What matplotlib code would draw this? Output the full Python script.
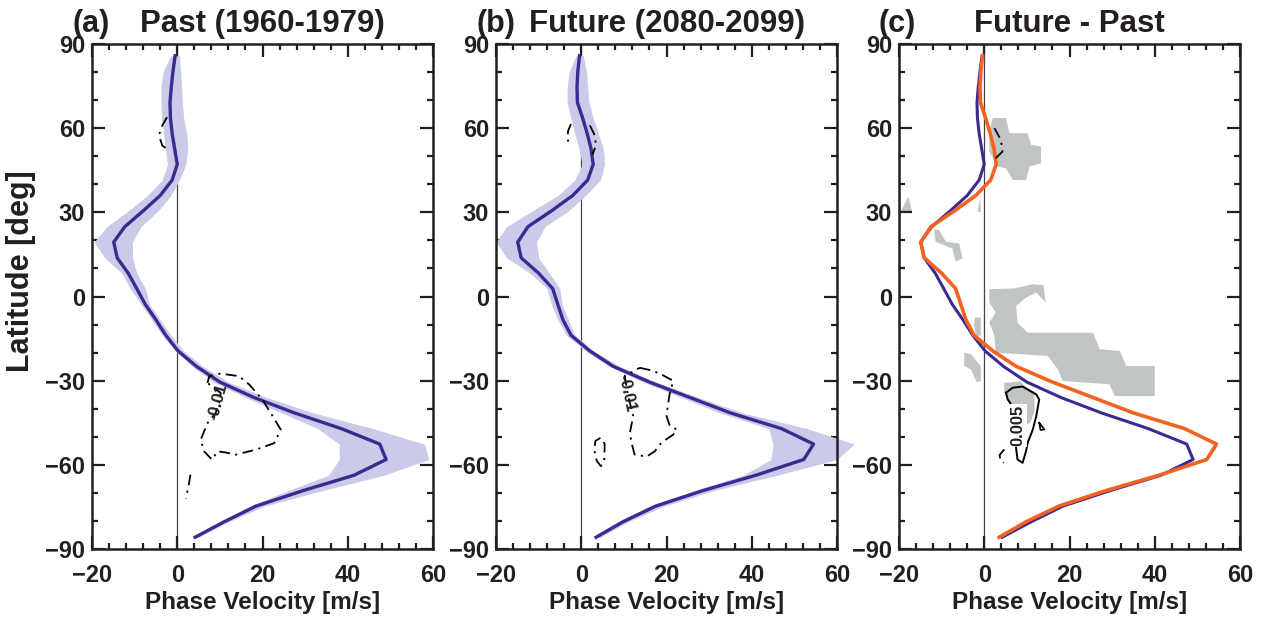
import numpy as np
import matplotlib
matplotlib.use("Agg")
import matplotlib.pyplot as plt
from matplotlib.ticker import MultipleLocator

plt.rcParams['font.family'] = ['Liberation Sans', 'DejaVu Sans']
plt.rcParams['font.weight'] = 'bold'

# T21 gaussian latitudes
lats = [85.8, 80.3, 74.7, 69.2, 63.7, 58.1, 52.6, 47.1, 41.5, 36.0, 30.5, 24.9, 19.4, 13.8, 8.3, 2.8,
        -2.8, -8.3, -13.8, -19.4, -24.9, -30.5, -36.0, -41.5, -47.1, -52.6, -58.1, -63.7, -69.2, -74.7, -80.3, -85.8]

# phase velocity of the mean, past (1960-1979)
past = [-0.5, -1.0, -1.4, -1.7, -1.6, -1.2, -0.6, 0.0, -1.2, -4.0, -8.0, -12.3, -14.9, -14.1, -11.5, -9.5,
        -7.5, -5.0, -2.7, 0.2, 4.5, 10.0, 18.0, 27.5, 38.5, 47.5, 49.0, 41.5, 29.5, 18.5, 11.0, 4.2]
past_lo = [-1.5, -3.3, -3.8, -3.8, -3.7, -3.2, -2.8, -2.3, -3.5, -7.0, -11.5, -16.5, -19.5, -17.0, -13.0, -11.0,
           -8.5, -6.0, -3.5, -0.5, 3.5, 8.5, 16.0, 24.5, 33.0, 38.0, 38.0, 35.5, 26.0, 17.0, 10.0, 3.5]
past_hi = [0.5, 0.8, 1.0, 1.2, 1.5, 2.2, 2.5, 2.0, 0.5, -1.5, -4.5, -8.5, -10.5, -10.5, -9.5, -7.5,
           -6.5, -4.0, -1.5, 1.5, 6.0, 12.0, 21.0, 32.0, 46.0, 58.0, 59.0, 48.5, 34.0, 20.5, 12.0, 5.0]

# future (2080-2099)
future = [-0.4, -0.8, -1.0, -0.9, 0.3, 1.4, 2.3, 2.8, 1.5, -2.0, -7.0, -12.5, -14.9, -14.1, -10.0, -6.7,
          -5.5, -4.3, -2.4, 2.0, 7.5, 16.0, 25.5, 35.0, 47.0, 54.5, 52.2, 41.0, 28.5, 17.5, 9.8, 3.5]
future_lo = [-1.2, -2.8, -3.3, -3.3, -2.5, -1.5, -0.5, 0.2, -1.5, -5.5, -11.5, -17.5, -20.0, -17.5, -12.0, -8.0,
             -7.0, -5.5, -3.5, 1.0, 6.5, 14.5, 23.5, 32.5, 44.0, 45.0, 44.5, 38.0, 26.5, 16.0, 8.5, 2.5]
future_hi = [0.5, 1.2, 1.5, 1.8, 2.8, 4.0, 5.2, 5.5, 4.5, 1.0, -3.0, -8.5, -10.5, -10.0, -7.5, -5.0,
             -4.5, -3.0, -1.5, 3.0, 9.0, 17.5, 27.5, 38.0, 53.0, 64.0, 60.0, 46.0, 31.0, 19.5, 11.0, 4.5]

# contour outlines (phase velocity, latitude)
a_main_x = [7.1, 7.5, 10.0, 12.2, 14.5, 16.9, 20.0, 22.4, 24.3, 22.7, 18.4, 13.7, 11.4, 9.4, 8.2, 6.3, 5.5, 7.1, 9.0, 9.8, 10.2, 7.1]
a_main_y = [-30.8, -28.4, -27.5, -27.9, -28.4, -31.4, -36.8, -42.7, -47.5, -52.3, -54.6, -56.4, -55.6, -55.2, -58.2, -55.2, -51.1, -45.1, -41.6, -38.0, -34.4, -30.8]
a_north_x = [-2.4, -3.5, -4.3, -3.5, -2.4]
a_north_y = [63.9, 61.0, 57.4, 53.8, 52.6]
a_south_x = [3.1, 2.6, 2.0]
a_south_y = [-63.5, -68.0, -72.0]

b_main_x = [13.7, 16.9, 19.2, 21.6, 20.8, 20.4, 20.0, 20.8, 22.4, 21.6, 18.8, 17.3, 15.3, 12.5, 11.8, 11.4, 12.2, 11.0, 10.2, 13.7]
b_main_y = [-25.4, -26.5, -28.1, -30.1, -34.3, -37.9, -42.6, -46.2, -47.4, -49.2, -52.1, -55.1, -57.1, -56.3, -52.1, -48.6, -42.6, -35.5, -28.3, -25.4]
b_oval_x = [4.5, 3.3, 3.1, 3.6, 4.6, 5.4, 5.5, 4.5]
b_oval_y = [-50.4, -51.5, -55.0, -58.5, -60.5, -58.5, -52.5, -50.4]
b_nl_x = [-2.4, -3.1, -3.2, -2.6]
b_nl_y = [61.5, 59.0, 56.0, 53.5]
b_nr_x = [2.0, 3.0, 3.5, 2.6]
b_nr_y = [61.0, 58.0, 54.0, 50.5]

c_main_x = [5.1, 6.7, 9.0, 12.2, 12.9, 12.2, 11.4, 10.2, 9.8, 9.0, 7.8, 7.5, 7.1, 7.1, 5.5, 5.1]
c_main_y = [-34.3, -32.5, -32.1, -34.9, -36.7, -42.6, -47.4, -52.1, -55.1, -59.3, -58.1, -54.5, -47.0, -40.2, -36.7, -34.3]
c_tri_x = [12.9, 14.1, 13.2, 12.9]
c_tri_y = [-45.0, -47.4, -47.6, -45.0]
c_frag_x = [4.7, 3.6, 3.8, 4.6]
c_frag_y = [-54.5, -56.5, -58.5, -59.3]
c_north_x = [2.4, 3.9, 4.3, 2.7]
c_north_y = [60.0, 55.8, 51.7, 49.3]

# significant regions in the difference panel
sig_regions = [
    ([2.0, 5.1, 5.9, 10.2, 11.0, 13.3, 13.3, 10.6, 9.8, 6.7, 5.1, 3.1, 1.2, 1.2],
     [63.6, 63.6, 58.2, 58.2, 54.0, 53.5, 47.5, 46.3, 41.5, 41.5, 45.7, 46.3, 51.7, 59.4]),
    ([-19.6, -17.8, -16.9], [30.2, 35.6, 30.2]),
    ([-1.6, -0.9, -0.8], [30.2, 35.0, 30.2]),
    ([-11.8, -10.6, -9.0, -5.9, -5.1, -6.7, -7.5, -11.4],
     [23.7, 23.7, 19.5, 18.9, 13.6, 12.4, 17.1, 19.5]),
    ([1.2, 7.1, 11.4, 13.9, 14.4, 12.2, 9.8, 7.5, 7.8, 10.2, 25.5, 27.1, 31.8, 33.3, 40.0, 40.0, 30.6, 29.4,
      18.4, 17.3, 14.9, 2.7, 2.4, 1.2, 2.7, 1.2],
     [2.6, 2.9, 4.4, 4.0, -2.1, 1.4, -0.4, -3.3, -9.3, -12.9, -12.9, -18.8, -19.4, -24.8, -24.8, -35.5, -35.5, -31.3,
      -30.1, -26.0, -21.2, -20.0, -14.0, -9.3, -5.7, -2.1]),
    ([-4.7, -3.1, -0.8, -0.8, -1.8, -3.1, -4.7], [-20.0, -20.6, -24.8, -30.1, -30.5, -26.0, -24.8]),
    ([-2.2, -0.8, -0.8, -2.0, -2.4], [-7.5, -7.5, -14.0, -14.0, -10.0]),
    ([4.7, 8.5, 9.5, 11.8, 11.8, 10.8, 9.5, 8.0, 5.5, 4.7],
     [-30.8, -30.3, -32.0, -34.0, -41.0, -45.0, -46.0, -40.0, -37.0, -34.0]),
]

titles = ["Past (1960-1979)", "Future (2080-2099)", "Future - Past"]
letters = ["(a)", "(b)", "(c)"]

BLUE = '#3a2a92'
BAND = '#c9cbe8'
ORANGE = '#f4621f'
GRAY = '#c0c4c4'
TXT = '#231f20'
DASHDOT = (0, (6, 3, 1.2, 3))

fig = plt.figure(figsize=(12.67, 6.19), dpi=100)
lefts = [92, 496, 899]
axes = []
for i, l in enumerate(lefts):
    ax = fig.add_axes([l / 1267, 1 - 549 / 619, 341 / 1267, 505 / 619])
    axes.append(ax)

for i, ax in enumerate(axes):
    ax.set_xlim(-20, 60)
    ax.set_ylim(-90, 90)
    ax.axvline(0, color='#444444', lw=0.9, zorder=1)
    if i == 0:
        ax.fill_betweenx(lats, past_lo, past_hi, color=BAND, lw=0, clip_on=False, zorder=2)
        ax.plot(past, lats, color=BLUE, lw=2.4, zorder=4)
        ax.plot(a_main_x, a_main_y, color='k', lw=1.3, ls=DASHDOT, zorder=5)
        ax.plot(a_north_x, a_north_y, color='k', lw=1.3, ls=DASHDOT, zorder=5)
        ax.plot(a_south_x, a_south_y, color='k', lw=1.3, ls=DASHDOT, zorder=5)
        ax.text(9.5, -37.5, "-0.01", rotation=75, ha='center', va='center', fontsize=12,
                color=TXT, zorder=6)
    elif i == 1:
        ax.fill_betweenx(lats, future_lo, future_hi, color=BAND, lw=0, clip_on=False, zorder=2)
        ax.plot(future, lats, color=BLUE, lw=2.4, zorder=4)
        for xs, ys in [(b_main_x, b_main_y), (b_oval_x, b_oval_y), (b_nl_x, b_nl_y), (b_nr_x, b_nr_y)]:
            ax.plot(xs, ys, color='k', lw=1.3, ls=DASHDOT, zorder=5)
        ax.text(10.6, -34.5, "-0.01", rotation=-78, ha='center', va='center', fontsize=12,
                color=TXT, zorder=6)
    else:
        for xs, ys in sig_regions:
            ax.fill(xs, ys, color=GRAY, lw=0, zorder=1)
        ax.plot(past, lats, color=BLUE, lw=2.2, zorder=4)
        ax.plot(future, lats, color=ORANGE, lw=2.6, zorder=4)
        ax.plot(c_main_x, c_main_y, color='k', lw=1.4, zorder=5)
        ax.plot(c_tri_x, c_tri_y, color='k', lw=1.2, zorder=5)
        ax.plot(c_frag_x, c_frag_y, color='k', lw=1.3, ls=DASHDOT, zorder=5)
        ax.plot(c_north_x, c_north_y, color='k', lw=1.3, ls=DASHDOT, zorder=5)
        ax.text(8.0, -46, "0.005", rotation=90, ha='center', va='center', fontsize=12,
                color=TXT, zorder=6, bbox=dict(fc='white', ec='none', pad=0.5))

    ax.set_xticks([-20, 0, 20, 40, 60])
    ax.set_yticks([-90, -60, -30, 0, 30, 60, 90])
    ax.xaxis.set_minor_locator(MultipleLocator(4))
    ax.yaxis.set_minor_locator(MultipleLocator(10))
    ax.tick_params(which='both', direction='in', top=True, right=True, width=1.6, colors=TXT,
                   labelsize=17)
    ax.tick_params(which='major', length=9.5)
    ax.tick_params(which='minor', length=4.5)
    ax.tick_params(axis='x', which='major', pad=11)
    ax.tick_params(axis='y', which='major', pad=5)
    for lab in ax.get_xticklabels() + ax.get_yticklabels():
        lab.set_fontweight('bold')
    for s in ax.spines.values():
        s.set_linewidth(1.8)
        s.set_color(TXT)
    ax.set_xlabel("Phase Velocity [m/s]", fontsize=17.5, fontweight='bold', color=TXT, labelpad=3)
    ax.text(0.5, 1.024, titles[i], transform=ax.transAxes, ha='center', va='baseline',
            fontsize=22.5, fontweight='bold', color=TXT)
    ax.text(-20 / 341, 1.024, letters[i], transform=ax.transAxes, ha='left', va='baseline',
            fontsize=22, fontweight='bold', color=TXT)

axes[0].set_ylabel("Latitude [deg]", fontsize=22, fontweight='bold', color=TXT)
axes[0].yaxis.set_label_coords(-0.165, 0.55)

fig.savefig("out.png", dpi=100)
